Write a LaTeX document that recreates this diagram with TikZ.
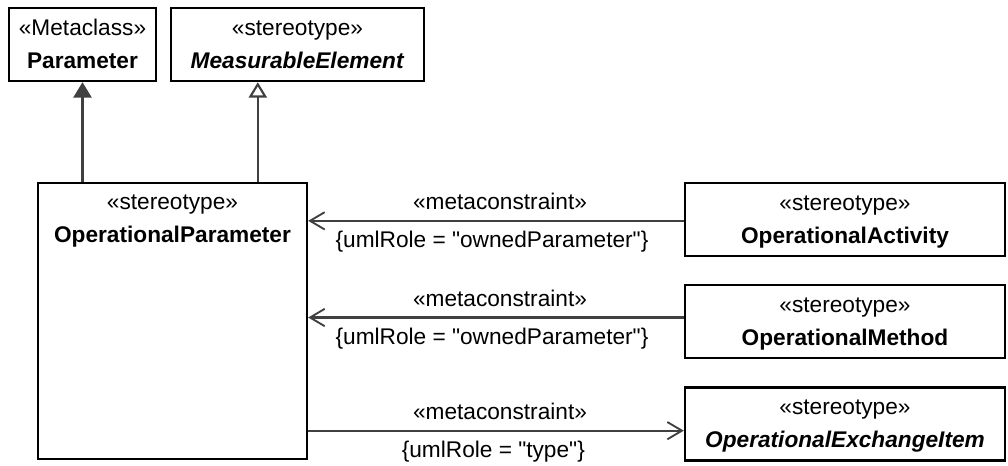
\documentclass[tikz,border=0pt]{standalone}
\usepackage{fontspec}
\setmainfont{Liberation Sans}
\usetikzlibrary{arrows.meta}
\definecolor{linegray}{HTML}{404040}
\newcommand{\topstrut}{\rule{0pt}{20.25pt}}
\newcommand{\botstrut}{\rule[-9.5pt]{0pt}{0pt}}
\newcommand{\dq}{\XeTeXglyph\XeTeXcharglyph"22\relax}
\begin{document}
\begin{tikzpicture}[x=0.75pt,y=-0.75pt,
  box/.style={draw=black, line width=1.8pt, rectangle, inner sep=0pt, align=center,
    font=\fontsize{17}{25}\selectfont},
  conn/.style={draw=linegray, line width=1.6pt},
  genfilled/.style={conn, -{Triangle[length=11.5pt, width=13.5pt, fill=linegray]}},
  genopen/.style={conn, -{Triangle[open, length=11.5pt, width=13.5pt, fill=white]}},
  dep/.style={conn, -{Straight Barb[length=11pt, width=13pt, line width=1.4pt]}},
  lbl/.style={font=\fontsize{17}{20}\selectfont, inner sep=0pt}
]
\useasboundingbox (0,0) rectangle (1008,465);

\node[box, minimum width=110.25pt, minimum height=54.75pt] (par) at (82.5,44.5)
  {\topstrut«Metaclass»\\\textbf{Parameter}\botstrut};
\node[box, minimum width=189.75pt, minimum height=54.75pt] (me) at (297.5,44.5)
  {\topstrut«stereotype»\\\textbf{\textit{MeasurableElement}}\botstrut};
\node[box, minimum width=201.75pt, minimum height=207pt] (op) at (172.5,321) {};
\node[inner sep=0pt, align=center, anchor=north, font=\fontsize{17}{25}\selectfont] (opt) at (op.north)
  {\topstrut«stereotype»\\\textbf{OperationalParameter}};
\node[box, minimum width=240pt, minimum height=54.75pt] (oa) at (845,219.5)
  {\topstrut«stereotype»\\\textbf{OperationalActivity}\botstrut};
\node[box, minimum width=240pt, minimum height=54.75pt] (om) at (845,321.5)
  {\topstrut«stereotype»\\\textbf{OperationalMethod}\botstrut};
\node[box, minimum width=240pt, minimum height=54.75pt] (oe) at (845,424)
  {\topstrut«stereotype»\\\textbf{\textit{OperationalExchangeItem}}\botstrut};

\coordinate (meb) at ([xshift=66pt]me.south west);
\draw[genfilled] (par.south |- op.north) -- (par.south);
\draw[genopen] (meb |- op.north) -- (meb);

\draw[dep] ([yshift=-1pt]oa.west) -- ([yshift=-1pt]oa.west -| op.east)
  node[lbl, midway, xshift=3pt, yshift=14.25pt] (l1a) {«metaconstraint»}
  node[lbl, midway, xshift=-3pt, yshift=-15.75pt] (l1b) {\{umlRole = \dq ownedParameter\dq\}};
\draw[dep] ([yshift=3pt]om.west) -- ([yshift=3pt]om.west -| op.east)
  node[lbl, midway, xshift=3pt, yshift=14.25pt] (l2a) {«metaconstraint»}
  node[lbl, midway, xshift=-3pt, yshift=-15.75pt] (l2b) {\{umlRole = \dq ownedParameter\dq\}};
\draw[dep] ([yshift=-5pt]oe.west -| op.east) -- ([yshift=-5pt]oe.west)
  node[lbl, midway, xshift=3pt, yshift=14.25pt] (l3a) {«metaconstraint»}
  node[lbl, midway, xshift=-2pt, yshift=-15.75pt] (l3b) {\{umlRole = \dq type\dq\}};
\end{tikzpicture}
\end{document}
